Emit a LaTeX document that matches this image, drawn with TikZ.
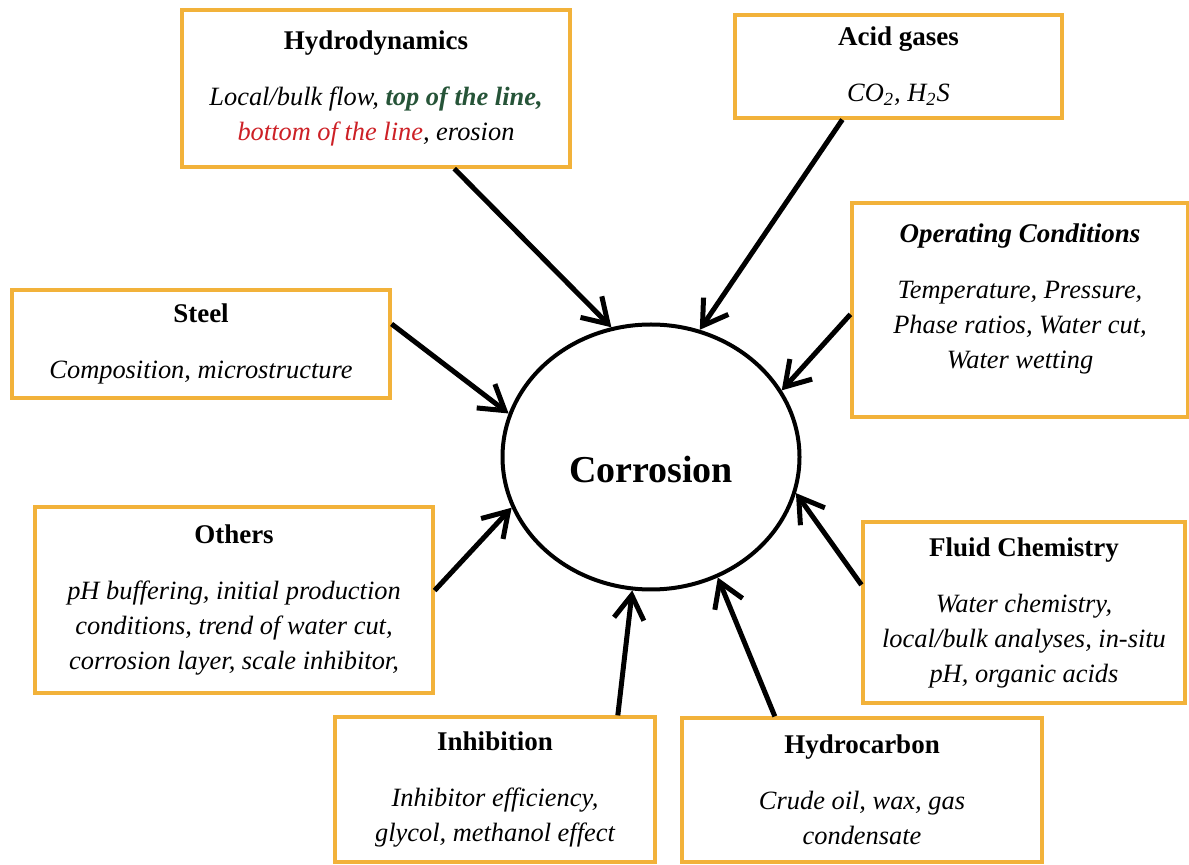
\documentclass[tikz,border=0pt]{standalone}
\usepackage{fontspec}
\setmainfont{Liberation Serif}
\usepackage{xcolor}
\usetikzlibrary{arrows.meta,calc,shapes.geometric}
\definecolor{boxgold}{RGB}{242,178,58}
\definecolor{topgreen}{RGB}{38,84,56}
\definecolor{botred}{RGB}{205,32,38}
\newcommand{\hd}[1]{{\fontsize{13.5}{17.5}\selectfont\upshape\bfseries #1}}

\begin{document}
\begin{tikzpicture}[x=0.5pt, y=-0.5pt,
  box/.style={draw=boxgold, line width=1.6pt, fill=white, align=center, inner sep=0pt,
    font=\fontsize{13.2}{17.5}\selectfont\itshape},
  arr/.style={-{Straight Barb[length=12pt,width=15pt]}, line width=2.5pt}]
\useasboundingbox (0,0) rectangle (1189,865);
\node[draw, ellipse, line width=2pt, minimum width=148.5pt, minimum height=132.5pt, inner sep=0pt,
  text height=26pt, text depth=0pt, font=\fontsize{19}{23}\selectfont\bfseries] (corr) at (651,457) {Corrosion};
\node[box, minimum width=194pt, minimum height=78.5pt] (hydro) at (376,88.5)
  {\hd{Hydrodynamics}\\[10.5pt] Local/bulk flow, \textcolor{topgreen}{\bfseries top of the line,}\\
   \textcolor{botred}{bottom of the line}, erosion};
\node[box, minimum width=163.5pt, minimum height=51.5pt] (acid) at (898.5,66.5)
  {\hd{Acid gases}\\[10.5pt] CO\textsubscript{2}, H\textsubscript{2}S};
\node[box, minimum width=168pt, minimum height=107pt] (opcond) at (1020,310)
  {\hd{\itshape Operating Conditions}\\[10.5pt] Temperature, Pressure,\\ Phase ratios, Water cut,\\ Water wetting\\[-4pt]\mbox{}};
\node[box, minimum width=189pt, minimum height=54pt] (steel) at (201,344)
  {\hd{Steel}\\[10.5pt] Composition, microstructure};
\node[box, minimum width=199pt, minimum height=93pt] (others) at (234,600)
  {\hd{Others}\\[10.5pt] pH buffering, initial production\\ conditions, trend of water cut,\\ corrosion layer, scale inhibitor,};
\node[box, minimum width=161pt, minimum height=90.5pt] (fluid) at (1024,612.5)
  {\hd{Fluid Chemistry}\\[10.5pt] Water chemistry,\\ local/bulk analyses, in-situ\\ pH, organic acids};
\node[box, minimum width=160pt, minimum height=72.5pt] (inhib) at (495,789.5)
  {\hd{Inhibition}\\[10.5pt] Inhibitor efficiency,\\ glycol, methanol effect};
\node[box, minimum width=180pt, minimum height=72pt] (hcarb) at (862,790)
  {\hd{Hydrocarbon}\\[10.5pt] Crude oil, wax, gas\\ condensate};
% factors pointing at corrosion
\draw[arr] ($(hydro.south west)!0.70!(hydro.south east)$) -- (corr.107.5);
\draw[arr] ($(acid.south west)!0.33!(acid.south east)$) -- (corr.69.4);
\draw[arr] ($(opcond.north west)!0.52!(opcond.south west)$) -- (corr.27.4);
\draw[arr] ($(steel.north east)!0.32!(steel.south east)$) -- (corr.163.2);
\draw[arr] ($(others.north east)!0.45!(others.south east)$) -- (corr.200.1);
\draw[arr] ($(fluid.north west)!0.35!(fluid.south west)$) -- (corr.346);
\draw[arr] ($(inhib.north west)!0.88!(inhib.north east)$) -- (corr.262.5);
\draw[arr] ($(hcarb.north west)!0.26!(hcarb.north east)$) -- (corr.299.9);
\end{tikzpicture}
\end{document}
